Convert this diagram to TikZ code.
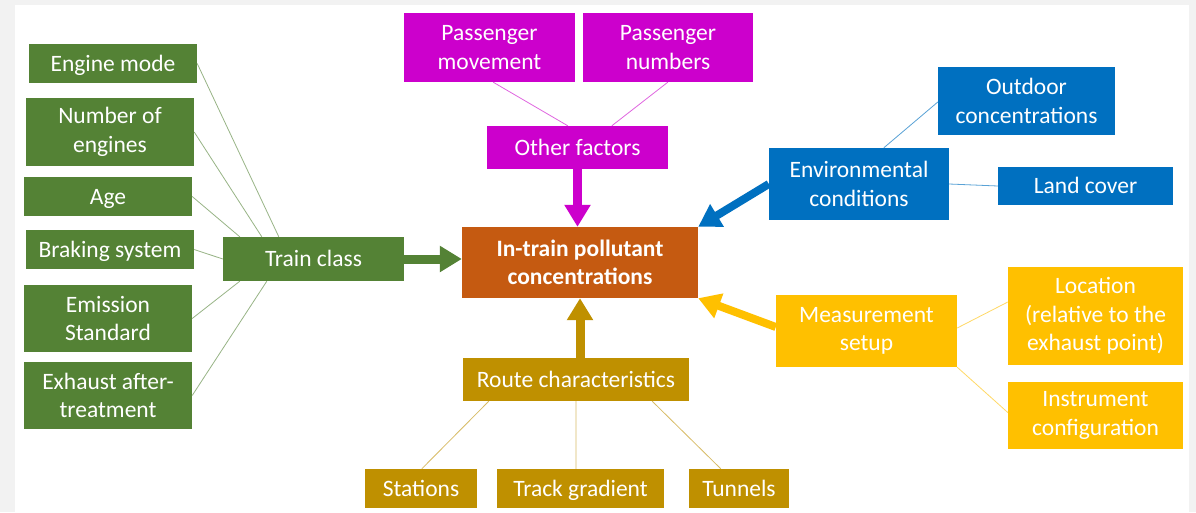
\documentclass[tikz,border=0pt]{standalone}
\usepackage{fontspec}
\setmainfont{Carlito}
\usetikzlibrary{arrows.meta,positioning,calc}

\definecolor{traingreen}{HTML}{548235}
\definecolor{otherpink}{HTML}{CC00CC}
\definecolor{envblue}{HTML}{0070C0}
\definecolor{routegold}{HTML}{BF9000}
\definecolor{measyellow}{HTML}{FFC000}
\definecolor{mainorange}{HTML}{C55A11}

\tikzset{
  factor/.style={rectangle, inner sep=0pt, text=white, align=center,
    font=\fontsize{23.5}{28.5}\selectfont},
  oneline/.style={text height=18pt, text depth=3pt},
  greenbox/.style={factor, fill=traingreen},
  pinkbox/.style={factor, fill=otherpink},
  bluebox/.style={factor, fill=envblue},
  goldbox/.style={factor, fill=routegold},
  yellowbox/.style={factor, fill=measyellow},
  mainbox/.style={factor, fill=mainorange, font=\fontsize{23.5}{28.5}\selectfont\bfseries},
  link/.style={line width=0.8pt},
  flow/.style={line width=9pt, -{Triangle[length=22pt,width=25pt]}}
}

\begin{document}
\begin{tikzpicture}[x=1pt,y=-1pt]

  % frame
  \fill[black!5] (0,0) rectangle (1196,512);
  \fill[white] (15,5) rectangle (1189,512);
  \useasboundingbox (0,0) rectangle (1196,512);

  % centre
  \node[mainbox, minimum width=236pt, minimum height=71pt] (main) at (580,262.5)
    {In-train pollutant\\concentrations};

  % train class
  \node[greenbox, oneline, minimum width=181pt, minimum height=44pt] (tc) at (313.5,259) {Train class};
  \node[greenbox, oneline, minimum width=168pt, minimum height=39pt] (em) at (113,63.5) {Engine mode};
  \node[greenbox, minimum width=168pt, minimum height=68pt] (noe) at (110,132) {Number of\\engines};
  \node[greenbox, oneline, minimum width=168pt, minimum height=39pt] (age) at (108,196.5) {Age};
  \node[greenbox, oneline, minimum width=168pt, minimum height=39pt] (brake) at (110,249.5) {Braking system};
  \node[greenbox, minimum width=168pt, minimum height=67pt] (emis) at (108,318.5) {Emission\\Standard};
  \node[greenbox, minimum width=168pt, minimum height=67pt] (exh) at (108,395.5) {Exhaust after-\\treatment};

  % other factors
  \node[pinkbox, oneline, minimum width=181pt, minimum height=43pt] (of) at (577.5,147.5) {Other factors};
  \node[pinkbox, minimum width=171pt, minimum height=69pt] (pm) at (489.5,47.5) {Passenger\\movement};
  \node[pinkbox, minimum width=170pt, minimum height=69pt] (pn) at (668,47.5) {Passenger\\numbers};

  % environmental conditions
  \node[bluebox, minimum width=180pt, minimum height=72pt] (env) at (859,184) {Environmental\\conditions};
  \node[bluebox, minimum width=177pt, minimum height=68pt] (out) at (1026.5,101) {Outdoor\\concentrations};
  \node[bluebox, oneline, minimum width=175pt, minimum height=38pt] (land) at (1085.5,186) {Land cover};

  % measurement setup
  \node[yellowbox, minimum width=181pt, minimum height=72pt] (meas) at (866.5,331) {Measurement\\setup};
  \node[yellowbox, minimum width=175pt, minimum height=98pt] (loc) at (1095.5,316)
    {Location\\(relative to the\\exhaust point)};
  \node[yellowbox, minimum width=175pt, minimum height=67pt] (inst) at (1095.5,415.5) {Instrument\\configuration};

  % route characteristics
  \node[goldbox, oneline, minimum width=226pt, minimum height=43pt] (route) at (576,379.5) {Route characteristics};
  \node[goldbox, oneline, minimum width=112pt, minimum height=39pt] (st) at (421,488.5) {Stations};
  \node[goldbox, oneline, minimum width=167pt, minimum height=39pt] (tg) at (580.5,488.5) {Track gradient};
  \node[goldbox, oneline, minimum width=100pt, minimum height=39pt] (tun) at (739,488.5) {Tunnels};

  % links
  \draw[link, traingreen!60!white]
    (em.east) -- ([xshift=56pt]tc.north west)
    (noe.east) -- ([xshift=39pt]tc.north west)
    (age.east) -- ([xshift=17pt]tc.north west)
    (brake.east) -- (tc.west)
    (emis.east) -- ([xshift=17pt]tc.south west)
    (exh.east) -- ([xshift=44pt]tc.south west);
  \draw[link, otherpink!60!white]
    ([xshift=-82pt]pm.south east) -- ([xshift=81pt]of.north west)
    ([xshift=85pt]pn.south west) -- ([xshift=125pt]of.north west);
  \draw[link, envblue!65!white]
    ([xshift=115pt]env.north west) -- ([yshift=-1pt]out.west)
    (env.east) -- (land.west);
  \draw[link, measyellow!60!white]
    ([yshift=3pt]meas.east) -- ([yshift=14pt]loc.west)
    (meas.south east) -- ([yshift=3pt]inst.west);
  \draw[link, routegold!60!white]
    ([xshift=26pt]route.south west) -- ([xshift=57pt]st.north west)
    (route.south) -- (tg.north -| route.south)
    ([xshift=-37pt]route.south east) -- ([xshift=32pt]tun.north west);

  % arrows into the centre
  \draw[flow, traingreen] (tc.east) -- (main.west |- tc.east);
  \draw[flow, otherpink] (of.south) -- (main.north -| of.south);
  \draw[flow, envblue, line width=8pt] (env.west) -- (main.north east);
  \draw[flow, measyellow, line width=8pt] ([yshift=4pt]meas.west) -- (main.south east);
  \draw[flow, routegold] (route.north -| main.south) -- (main.south);

\end{tikzpicture}
\end{document}
